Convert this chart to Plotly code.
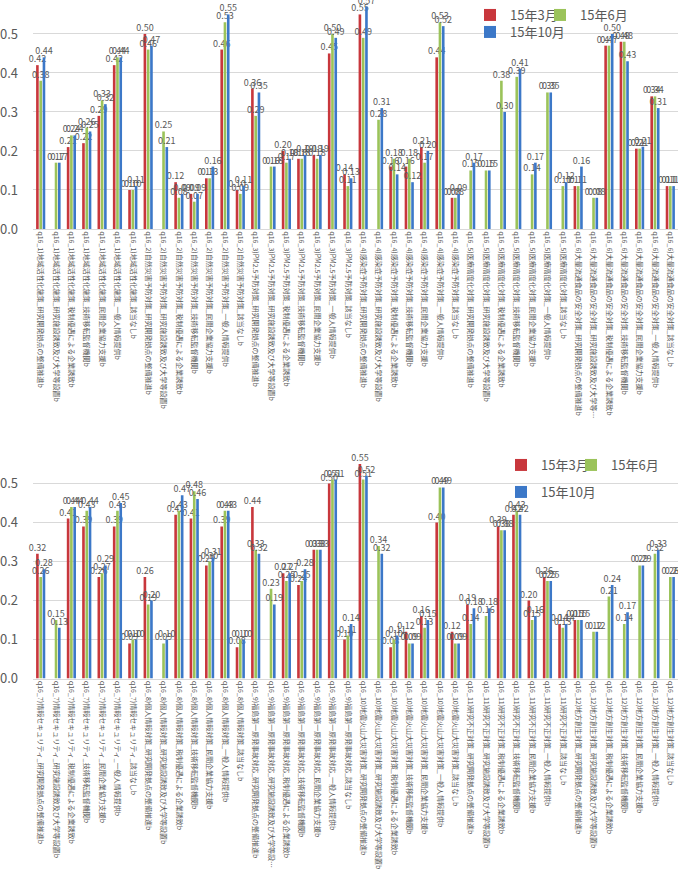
import plotly.graph_objects as go

# ---------------- data ----------------
series_names = ["15年3月", "15年6月", "15年10月"]
colors = ["#C8373C", "#9BC35A", "#3C78C8"]

topics_top = ["q16_1)地域活性化施策", "q16_2)自然災害予防対策", "q16_3)PM2.5予防対策",
              "q16_4)感染症予防対策", "q16_5)医療高度化対策", "q16_6)大量流通食品の安全対策"]
topics_bottom = ["q16_7)情報セキュリティ", "q16_8)個人情報対策", "q16_9)福島第一原発事故対応",
                 "q16_10)地震火山大災害対策", "q16_11)研究不正対策", "q16_12)地方創生対策"]
options = ["研究開発拠点の整備推進b", "研究施設誘致及び大学等設置b", "税制優遇による企業誘致b",
           "技術移転監督機関b", "民間企業協力支援b", "一般人情報提供b", "該当なしb"]

red_top = [0.42, None, 0.21, 0.22, 0.29, 0.42, 0.10,
           0.50, None, 0.12, 0.09, 0.13, 0.46, 0.10,
           0.36, None, 0.20, 0.18, 0.19, 0.45, 0.14,
           0.55, None, 0.16, 0.16, 0.21, 0.44, 0.08,
           None, None, None, None, None, None, None,
           0.11, None, 0.47, 0.48, 0.206, 0.34, 0.11]
green_top = [0.38, 0.17, 0.24, 0.26, 0.33, 0.44, 0.10,
             0.46, 0.25, 0.08, 0.07, 0.13, 0.53, 0.09,
             0.29, 0.16, 0.17, 0.18, 0.18, 0.50, 0.11,
             0.49, 0.28, 0.18, 0.18, 0.17, 0.53, 0.08,
             0.15, 0.15, 0.38, 0.39, 0.14, 0.35, 0.11,
             0.11, 0.08, 0.47, 0.48, 0.206, 0.34, 0.11]
blue_top = [0.44, 0.17, 0.24, 0.25, 0.32, 0.44, 0.11,
            0.47, 0.21, 0.09, 0.09, 0.16, 0.55, 0.11,
            0.35, 0.16, 0.18, 0.19, 0.19, 0.49, 0.13,
            0.57, 0.31, 0.14, 0.12, 0.20, 0.52, 0.09,
            0.17, 0.15, 0.30, 0.41, 0.17, 0.35, 0.12,
            0.16, 0.08, 0.50, 0.43, 0.211, 0.31, 0.11]

red_bottom = [0.32, None, 0.41, 0.39, 0.26, 0.39, 0.09,
              0.26, None, 0.42, 0.41, 0.29, 0.39, 0.08,
              0.44, None, 0.27, 0.24, 0.33, 0.50, 0.10,
              0.55, None, 0.08, 0.12, 0.16, 0.40, 0.12,
              0.19, None, 0.39, 0.42, 0.20, 0.26, 0.14,
              0.15, None, None, None, None, None, None]
green_bottom = [0.26, 0.15, 0.44, 0.43, 0.27, 0.43, 0.10,
                0.19, 0.09, 0.43, 0.48, 0.30, 0.43, 0.10,
                0.33, 0.23, 0.25, 0.25, 0.33, 0.51, 0.11,
                0.51, 0.34, 0.10, 0.09, 0.13, 0.49, 0.09,
                0.14, 0.16, 0.38, 0.43, 0.15, 0.25, 0.13,
                0.15, 0.12, 0.21, 0.14, 0.29, 0.32, 0.26]
blue_bottom = [0.28, 0.13, 0.44, 0.44, 0.29, 0.45, 0.10,
               0.20, 0.10, 0.47, 0.46, 0.31, 0.43, 0.10,
               0.32, 0.19, 0.27, 0.28, 0.33, 0.51, 0.14,
               0.52, 0.32, 0.11, 0.09, 0.15, 0.49, 0.09,
               0.18, 0.18, 0.38, 0.42, 0.16, 0.25, 0.14,
               0.15, 0.12, 0.24, 0.17, 0.29, 0.33, 0.26]

y_ticks = [0.0, 0.1, 0.2, 0.3, 0.4, 0.5]


# ------------- category labels -------------
def em_width(s):
    return sum(0.55 if ord(c) < 128 else 1.0 for c in s)


def trunc(s, limit=27.0):
    if em_width(s) <= limit:
        return s
    out = ""
    for c in s:
        if em_width(out + c) > limit - 1:
            break
        out += c
    return out + "…"


def make_cats(topics):
    return [trunc(f"{t}_{o}") for t in topics for o in options]


cats_top = make_cats(topics_top)
cats_bottom = make_cats(topics_bottom)

FONT = "Noto Sans CJK JP"
GRAY = "#595959"

fig = go.Figure()


def add_series(cats, series, xa, ya, legends):
    for name, vals, col, leg in zip(series_names, series, colors, legends):
        fig.add_trace(go.Bar(
            x=cats, y=vals, name=name, marker_color=col, marker_line_width=0,
            xaxis=xa, yaxis=ya, legend=leg, showlegend=True,
            text=["" if v is None else f"{v:.2f}" for v in vals],
            textposition="outside", cliponaxis=False, constraintext="none",
            textfont=dict(size=9, color=GRAY, family=FONT),
        ))


add_series(cats_top, [red_top, green_top, blue_top], "x", "y",
           ["legend", "legend2", "legend3"])
add_series(cats_bottom, [red_bottom, green_bottom, blue_bottom], "x2", "y2",
           ["legend4", "legend5", "legend6"])

H = 870.0
W = 678.0


def leg(xpx, ypx, anchor="middle"):
    return dict(xref="container", yref="container", x=xpx / W, y=1 - ypx / H,
                xanchor="left", yanchor=anchor, bgcolor="rgba(0,0,0,0)",
                font=dict(size=13, color=GRAY, family=FONT), itemwidth=30)


xaxis_common = dict(tickangle=90, tickfont=dict(size=7, color=GRAY, family=FONT),
                    showgrid=False, showline=True, linecolor="#D9D9D9", linewidth=1,
                    ticks="", tickmode="array", fixedrange=True)
yaxis_common = dict(tickvals=y_ticks, tickformat=".1f", gridcolor="#D9D9D9", gridwidth=1,
                    zeroline=False, showline=False,
                    tickfont=dict(size=13, color=GRAY, family=FONT), ticklabelstandoff=14)

fig.update_layout(
    width=678, height=870, showlegend=True,
    margin=dict(l=33, r=0, t=0, b=0, autoexpand=False),
    barmode="group", bargap=0.36, bargroupgap=0.2,
    plot_bgcolor="white", paper_bgcolor="white",
    font=dict(family=FONT, color=GRAY),
    xaxis=dict(domain=[0, 1], anchor="y", tickvals=cats_top, **xaxis_common),
    yaxis=dict(domain=[1 - 229 / H, 1], anchor="x", range=[0, 0.587], **yaxis_common),
    xaxis2=dict(domain=[0, 1], anchor="y2", tickvals=cats_bottom, **xaxis_common),
    yaxis2=dict(domain=[1 - 678.5 / H, 1 - 444.5 / H], anchor="x2", range=[0, 0.6], **yaxis_common),
    legend=leg(470, 0, "top"), legend2=leg(540, 0, "top"), legend3=leg(470, 32),
    legend4=leg(501, 465), legend5=leg(571, 465), legend6=leg(501, 492),
)

fig.write_html("out.html")
